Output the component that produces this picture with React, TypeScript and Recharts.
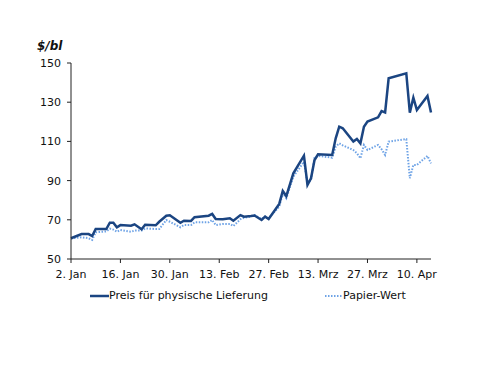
import { LineChart, Line, XAxis, YAxis, Legend } from 'recharts'

// days since 2. Jan
const days = [0, 3, 5, 6, 7, 10, 11, 12, 13, 14, 17, 18, 20, 21, 24, 25, 27, 28, 31, 32, 34, 35, 39, 40, 41, 43, 45, 46, 48, 49, 51, 52, 54, 55, 56, 59, 60, 61, 63, 66, 67, 68, 69, 70, 74, 75, 76, 77, 80, 81, 82, 83, 84, 87, 88, 89, 90, 95, 96, 97, 98, 101, 102]

const physisch = [60.6, 62.7, 62.7, 61.7, 65.3, 65.3, 68.5, 68.5, 66.2, 67.3, 67.0, 67.7, 65.2, 67.5, 67.2, 69.0, 72.1, 72.3, 68.5, 69.5, 69.4, 71.3, 72.1, 73.0, 70.4, 70.3, 70.8, 69.5, 72.4, 71.6, 71.9, 72.2, 69.9, 71.6, 70.4, 78.1, 84.7, 82.1, 93.7, 102.7, 87.8, 91.2, 100.5, 103.4, 103.1, 111.6, 117.5, 116.7, 109.9, 111.2, 109.0, 117.5, 120.1, 122.3, 125.5, 124.8, 142.2, 144.7, 124.7, 132.3, 126.0, 133.2, 124.7]

const papier = [60.5, 61.1, 60.6, 59.7, 63.6, 64.1, 65.5, 65.0, 63.9, 64.8, 63.9, 64.5, 64.5, 65.6, 65.3, 65.3, 69.9, 69.0, 66.2, 67.3, 67.3, 68.7, 68.7, 69.9, 67.3, 67.9, 67.9, 66.8, 70.3, 71.0, 71.6, 72.4, 70.4, 71.6, 70.8, 76.7, 83.5, 81.0, 92.0, 99.6, 88.6, 90.3, 101.7, 102.6, 101.7, 107.3, 109.0, 108.0, 105.6, 104.0, 101.4, 108.2, 105.6, 108.2, 106.0, 103.1, 109.9, 111.2, 91.2, 98.0, 98.0, 102.6, 98.8]

const xTicks = [0, 14, 28, 42, 56, 70, 84, 98]
const xLabels = ['2. Jan', '16. Jan', '30. Jan', '13. Feb', '27. Feb', '13. Mrz', '27. Mrz', '10. Apr']
const yTicks = [50, 70, 90, 110, 130, 150]

const DARK = '#1b4582'
const LIGHT = '#6ea3e6'
const FONT = '"DejaVu Sans", sans-serif'

const data = days.map((d, i) => ({ day: d, physisch: physisch[i], papier: papier[i] }))

function ChartLegend() {
  return (
    <div style={{ position: 'relative', height: 20, fontFamily: FONT, fontSize: 11, color: '#111' }}>
      <div style={{ position: 'absolute', left: 90, top: 3, display: 'flex', alignItems: 'center' }}>
        <svg width={19} height={6}><line x1={0} y1={3} x2={19} y2={3} stroke={DARK} strokeWidth={2.5} /></svg>
        <span>Preis für physische Lieferung</span>
      </div>
      <div style={{ position: 'absolute', left: 325, top: 3, display: 'flex', alignItems: 'center' }}>
        <svg width={18} height={6}><line x1={0} y1={3} x2={18} y2={3} stroke={LIGHT} strokeWidth={2} strokeDasharray="1.5 1.5" /></svg>
        <span>Papier-Wert</span>
      </div>
    </div>
  )
}

export default function App() {
  return (
    <div style={{ position: 'absolute', left: 0, top: 0, width: 500, height: 386, background: '#fff' }}>
      <div style={{ position: 'absolute', left: 37, top: 39, fontFamily: FONT, fontSize: 12, fontWeight: 'bold', fontStyle: 'italic', color: '#111' }}>
        $/bl
      </div>
      <LineChart width={500} height={386} data={data} margin={{ top: 63, right: 69, bottom: 77, left: 31 }}>
        <XAxis
          dataKey="day"
          type="number"
          domain={[0, 102]}
          ticks={xTicks}
          tickFormatter={(v: number) => xLabels[xTicks.indexOf(v)] ?? ''}
          interval={0}
          height={30}
          tickSize={4}
          tickMargin={7}
          stroke="#222"
          tick={{ fill: '#111', fontSize: 11, fontFamily: FONT }}
        />
        <YAxis
          domain={[50, 150]}
          ticks={yTicks}
          interval={0}
          width={40}
          tickSize={4}
          tickMargin={6}
          stroke="#222"
          tick={{ fill: '#111', fontSize: 11, fontFamily: FONT }}
        />
        <Legend
          content={<ChartLegend />}
          wrapperStyle={{ position: 'absolute', top: 286, left: 0, width: 500 }}
        />
        <Line type="linear" dataKey="papier" stroke={LIGHT} strokeWidth={2} strokeDasharray="1.5 1.5" dot={false} isAnimationActive={false} />
        <Line type="linear" dataKey="physisch" stroke={DARK} strokeWidth={2.5} dot={false} isAnimationActive={false} />
      </LineChart>
    </div>
  )
}
